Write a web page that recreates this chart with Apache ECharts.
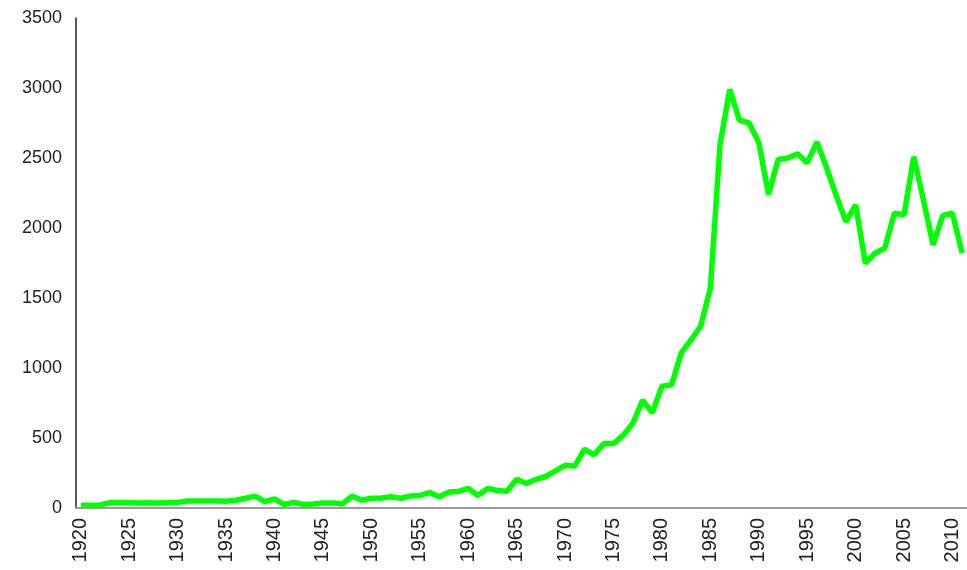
<!DOCTYPE html>
<html>
<head>
<meta charset="utf-8">
<title>chart</title>
<script src="https://cdn.jsdelivr.net/npm/echarts@6/dist/echarts.min.js"></script>
<style>
  html, body { margin: 0; padding: 0; background: #fff; }
  .main { width: 967px; height: 570px; }
</style>
</head>
<body>
<div class="main"></div>
<script>
var startYear = 1920,
    endYear = 2011;

// values, one per year
var values = [
  20, 20, 22, 38, 40, 38, 36, 38, 36, 38,          // 1920-1929
  40, 50, 50, 50, 50, 48, 55, 70, 85, 45,          // 1930-1939
  65, 25, 40, 25, 28, 35, 35, 30, 85, 55,          // 1940-1949
  70, 72, 80, 70, 85, 90, 110, 80, 115, 118,       // 1950-1959
  140, 90, 140, 125, 120, 205, 175, 205, 225, 265, // 1960-1969
  305, 300, 420, 380, 460, 460, 520, 605, 770, 680, // 1970-1979
  870, 880, 1110, 1200, 1300, 1570, 2600, 2990, 2770, 2750, // 1980-1989
  2610, 2240, 2490, 2500, 2530, 2465, 2615, 2430, 2230, 2045, // 1990-1999
  2165, 1750, 1820, 1855, 2105, 2095, 2510, 2200, 1880, 2090, // 2000-2009
  2105, 1820                                        // 2010-2011
];

var years = [];
for (var y = startYear; y <= endYear; y++) {
  years.push(String(y));
}

var yMin = 0,
    yMax = 3500,
    yStep = 500;

var myChart = echarts.init(document.querySelector('.main'));

var option = {
  animation: false,
  grid: {
    left: 76,
    right: 0,
    top: 18,
    bottom: 62
  },
  xAxis: {
    type: 'category',
    data: years,
    boundaryGap: true,
    axisLine: { lineStyle: { color: '#9a9a9a', width: 2 } },
    axisTick: { show: false },
    axisLabel: {
      interval: 4,
      rotate: 90,
      color: '#222',
      fontFamily: 'Liberation Sans',
      fontSize: 20,
      margin: 10
    },
    splitLine: { show: false }
  },
  yAxis: {
    type: 'value',
    min: yMin,
    max: yMax,
    interval: yStep,
    axisLine: { show: true, lineStyle: { color: '#222', width: 1.5 } },
    axisTick: { show: false },
    axisLabel: {
      color: '#222',
      fontFamily: 'Liberation Sans',
      fontSize: 18,
      margin: 14,
      formatter: function (v) { return String(v); }
    },
    splitLine: { show: false }
  },
  series: [{
    type: 'line',
    data: values,
    symbol: 'none',
    lineStyle: { color: '#00ff00', width: 5.5 }
  }]
};

myChart.setOption(option);
</script>
</body>
</html>
